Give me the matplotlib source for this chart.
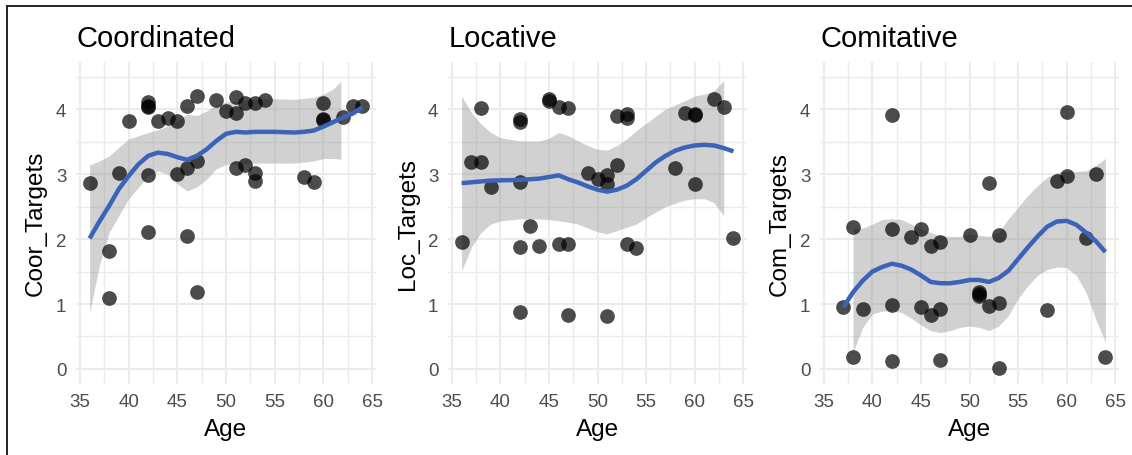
import numpy as np
import matplotlib.pyplot as plt
from matplotlib.lines import Line2D

plt.rcParams['font.family'] = ['Liberation Sans', 'DejaVu Sans']

W, H = 1132, 456

# --- Coordinated ---
coor_age = [36, 38, 38, 39, 40, 42, 42, 42, 42, 42, 43, 44, 45, 45, 46, 46, 46, 47, 47, 47,
            49, 50, 51, 51, 51, 52, 52, 53, 53, 53, 54, 58, 59, 60, 60, 60, 62, 63, 64]
coor_val = [2.87, 1.82, 1.10, 3.01, 3.81, 4.11, 4.05, 4.03, 2.98, 2.11, 3.81, 3.87, 3.82, 3.00,
            4.05, 3.10, 2.05, 4.20, 3.20, 1.18, 4.14, 3.97, 4.19, 3.94, 3.10, 4.10, 3.14, 4.10,
            3.02, 2.90, 4.14, 2.95, 2.88, 4.10, 3.85, 3.83, 3.88, 4.05, 4.05]
coor_fit_age = [36, 37, 38, 39, 40, 41, 42, 43, 44, 45, 46, 47, 48, 49, 50, 51, 52, 53, 55, 57,
                58, 59, 60, 61, 62, 63, 64]
coor_fit = [2.01, 2.27, 2.51, 2.77, 2.97, 3.15, 3.28, 3.33, 3.31, 3.26, 3.22, 3.28, 3.38, 3.51,
            3.62, 3.65, 3.64, 3.65, 3.65, 3.64, 3.65, 3.67, 3.73, 3.80, 3.87, 3.93, 4.03]
coor_band_age = [36, 37, 38, 40, 42, 43, 44, 45, 46, 47, 48, 49, 50, 51, 53, 55, 57, 59, 60, 61, 61.8]
coor_hi = [3.14, 3.20, 3.28, 3.54, 3.64, 3.68, 3.74, 3.82, 3.92, 3.90, 3.97, 4.06, 4.11, 4.12,
           4.15, 4.16, 4.15, 4.18, 4.23, 4.31, 4.43]
coor_lo = [0.87, 1.59, 2.10, 2.62, 2.97, 3.05, 3.00, 2.85, 2.74, 2.80, 2.92, 3.08, 3.15, 3.15,
           3.17, 3.17, 3.17, 3.20, 3.24, 3.24, 3.23]

# --- Locative ---
loc_age = [36, 37, 38, 38, 39, 42, 42, 42, 42, 42, 43, 44, 45, 45, 46, 46, 47, 47, 47, 49, 50,
           51, 51, 51, 52, 52, 53, 53, 53, 54, 58, 59, 60, 60, 60, 62, 63, 64]
loc_val = [1.95, 3.19, 4.01, 3.18, 2.80, 3.84, 3.80, 2.88, 1.88, 0.87, 2.20, 1.89, 4.15, 4.12,
           4.03, 1.92, 4.02, 1.92, 0.83, 3.02, 2.92, 2.98, 2.85, 0.82, 3.14, 3.89, 3.92, 3.86,
           1.92, 1.86, 3.09, 3.94, 3.93, 3.91, 2.84, 4.15, 4.03, 2.02]
loc_fit_age = [36, 39, 42, 44, 46, 47, 48, 49, 50, 51, 52, 53, 54, 55, 56, 57, 58, 59, 60, 61,
               62, 63, 64]
loc_fit = [2.86, 2.90, 2.91, 2.93, 2.98, 2.92, 2.87, 2.81, 2.76, 2.73, 2.76, 2.82, 2.92, 3.05,
           3.18, 3.28, 3.36, 3.41, 3.44, 3.45, 3.44, 3.40, 3.35]
loc_band_age = [36, 37, 38, 39, 40, 42, 44, 45, 46, 47, 48, 49, 50, 51, 52, 53, 54, 55, 57, 59,
                60, 61, 62, 63]
loc_hi = [4.20, 3.95, 3.77, 3.64, 3.56, 3.51, 3.51, 3.55, 3.64, 3.59, 3.51, 3.44, 3.38, 3.37,
          3.44, 3.54, 3.67, 3.78, 4.00, 4.13, 4.20, 4.23, 4.28, 4.44]
loc_lo = [1.51, 1.87, 2.10, 2.23, 2.28, 2.31, 2.31, 2.30, 2.28, 2.26, 2.23, 2.17, 2.11, 2.08,
          2.13, 2.18, 2.23, 2.33, 2.50, 2.60, 2.62, 2.62, 2.56, 2.36]

# --- Comitative ---
com_age = [37, 38, 38, 39, 42, 42, 42, 42, 44, 45, 45, 46, 46, 47, 47, 47, 50, 51, 51, 51,
           52, 52, 53, 53, 53, 58, 59, 60, 60, 62, 63, 64]
com_val = [0.96, 2.18, 0.19, 0.93, 3.91, 2.15, 0.98, 0.13, 2.03, 2.15, 0.96, 1.90, 0.83, 1.96,
           0.93, 0.14, 2.06, 1.19, 1.15, 1.12, 2.87, 0.97, 2.06, 1.02, 0.01, 0.91, 2.90, 2.97,
           3.96, 2.01, 3.00, 0.19]
com_fit_age = list(range(37, 65))
com_fit = [0.95, 1.18, 1.36, 1.50, 1.57, 1.62, 1.59, 1.53, 1.44, 1.34, 1.32, 1.32, 1.34, 1.37,
           1.37, 1.34, 1.40, 1.51, 1.69, 1.87, 2.04, 2.19, 2.27, 2.28, 2.22, 2.10, 1.97, 1.80]
com_band_age = list(range(38, 65))
com_hi = [2.16, 2.17, 2.23, 2.30, 2.31, 2.30, 2.23, 2.16, 2.10, 2.05, 2.04, 2.04, 2.08, 2.06,
          2.04, 2.10, 2.31, 2.49, 2.67, 2.82, 2.95, 3.02, 3.04, 3.04, 3.05, 3.13, 3.24]
com_lo = [0.26, 0.64, 0.85, 0.89, 0.90, 0.87, 0.78, 0.68, 0.59, 0.56, 0.59, 0.64, 0.66, 0.64,
          0.59, 0.66, 0.82, 1.08, 1.28, 1.44, 1.53, 1.57, 1.56, 1.44, 1.18, 0.77, 0.41]

panels = [
    ("Coordinated", "Coor_Targets", 76, 376, coor_age, coor_val, coor_fit_age, coor_fit,
     coor_band_age, coor_lo, coor_hi),
    ("Locative", "Loc_Targets", 448, 747, loc_age, loc_val, loc_fit_age, loc_fit,
     loc_band_age, loc_lo, loc_hi),
    ("Comitative", "Com_Targets", 820, 1119, com_age, com_val, com_fit_age, com_fit,
     com_band_age, com_lo, com_hi),
]

top, bottom = 63, 384.6

fig = plt.figure(figsize=(W / 100, H / 100), dpi=100)
fig.patch.set_facecolor('white')

for title, ylab, left, right, ages, vals, fx, fy, bx, blo, bhi in panels:
    ax = fig.add_axes([left / W, 1 - bottom / H, (right - left) / W, (bottom - top) / H])
    ax.set_xlim(34.6, 65.4)
    ax.set_ylim(-0.225, 4.725)
    ax.set_xticks([35, 40, 45, 50, 55, 60, 65])
    ax.set_xticks(np.arange(37.5, 65, 5), minor=True)
    ax.set_yticks([0, 1, 2, 3, 4])
    ax.set_yticks([0.5, 1.5, 2.5, 3.5, 4.5], minor=True)
    ax.grid(which='major', color='#EBEBEB', linewidth=1.5)
    ax.grid(which='minor', color='#EBEBEB', linewidth=1.0)
    ax.set_axisbelow(True)
    for s in ax.spines.values():
        s.set_visible(False)
    ax.tick_params(which='both', length=0, labelsize=13.5, labelcolor='#4D4D4D', pad=7)

    ax.fill_between(bx, blo, bhi, color='#999999', alpha=0.45, linewidth=0, zorder=2)
    ax.scatter(ages, vals, s=112, color='black', alpha=0.7, linewidths=0, zorder=3)
    ax.plot(fx, fy, color='#3B63B8', linewidth=3.2, solid_capstyle='butt', zorder=4)

    ax.set_xlabel("Age", fontsize=17.5)
    ax.set_ylabel(ylab, fontsize=17.5)
    ax.xaxis.set_label_coords(0.5, (bottom - 430) / (bottom - top))
    ax.xaxis.label.set_va('center')
    ax.yaxis.set_label_coords(-40 / (right - left), 0.5)
    ax.yaxis.label.set_va('center')

    fig.text((left + 1) / W, 1 - 47 / H, title, fontsize=21, va='baseline', ha='left')

# screenshot frame
fig.add_artist(Line2D([6.5 / W, 6.5 / W], [0, 1 - 7 / H], color='#222222', linewidth=1.4))
fig.add_artist(Line2D([6.5 / W, 1], [1 - 7 / H, 1 - 7 / H], color='#222222', linewidth=1.4))

fig.savefig('out.png', dpi=100)
